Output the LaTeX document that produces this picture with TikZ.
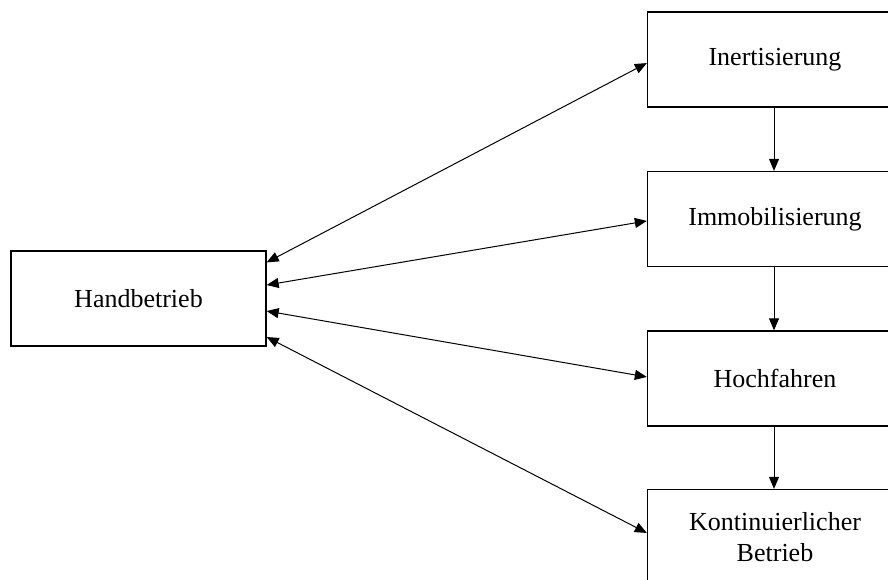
\documentclass[tikz,border=0pt]{standalone}
\usepackage{fontspec}
\setmainfont{Liberation Serif}
\usetikzlibrary{arrows.meta,calc}
\begin{document}
\begin{tikzpicture}[x=0.75pt,y=-0.75pt,
  box/.style={draw=black,line width=1pt,fill=white,minimum width=191.25pt,minimum height=71.25pt,inner sep=0pt,align=center,font=\fontsize{19.5pt}{23pt}\selectfont},
  conn/.style={line width=0.75pt,{Triangle[length=9pt,width=7.5pt]}-{Triangle[length=9pt,width=7.5pt]}},
  down/.style={line width=0.75pt,-{Triangle[length=9pt,width=7.5pt]}}]
\useasboundingbox (0,0) rectangle (888,579);
\clip (0,0) rectangle (888,579);
\fill[white] (0,0) rectangle (888,579);
\node[box] (hand) at (138.5,298.5) {Handbetrieb};
\node[box] (inert) at (775,59.5) {Inertisierung};
\node[box] (immob) at (775,219) {Immobilisierung};
\node[box] (hoch) at (775,378.5) {Hochfahren};
\node[box] (kont) at (775,537) {Kontinuierlicher\\Betrieb};
\draw[conn] ($(hand.north east)!0.125!(hand.south east)$) -- ($(inert.north west)!0.537!(inert.south west)$);
\draw[conn] ($(hand.north east)!0.36!(hand.south east)$) -- ($(immob.north west)!0.52!(immob.south west)$);
\draw[conn] ($(hand.north east)!0.63!(hand.south east)$) -- ($(hoch.north west)!0.484!(hoch.south west)$);
\draw[conn] ($(hand.north east)!0.9!(hand.south east)$) -- ($(kont.north west)!0.458!(kont.south west)$);
\draw[down] ($(inert.south)+(-1,0)$) -- ($(immob.north)+(-1,0)$);
\draw[down] ($(immob.south)+(-1,0)$) -- ($(hoch.north)+(-1,0)$);
\draw[down] ($(hoch.south)+(-1,0)$) -- ($(kont.north)+(-1,0)$);
\end{tikzpicture}
\end{document}
